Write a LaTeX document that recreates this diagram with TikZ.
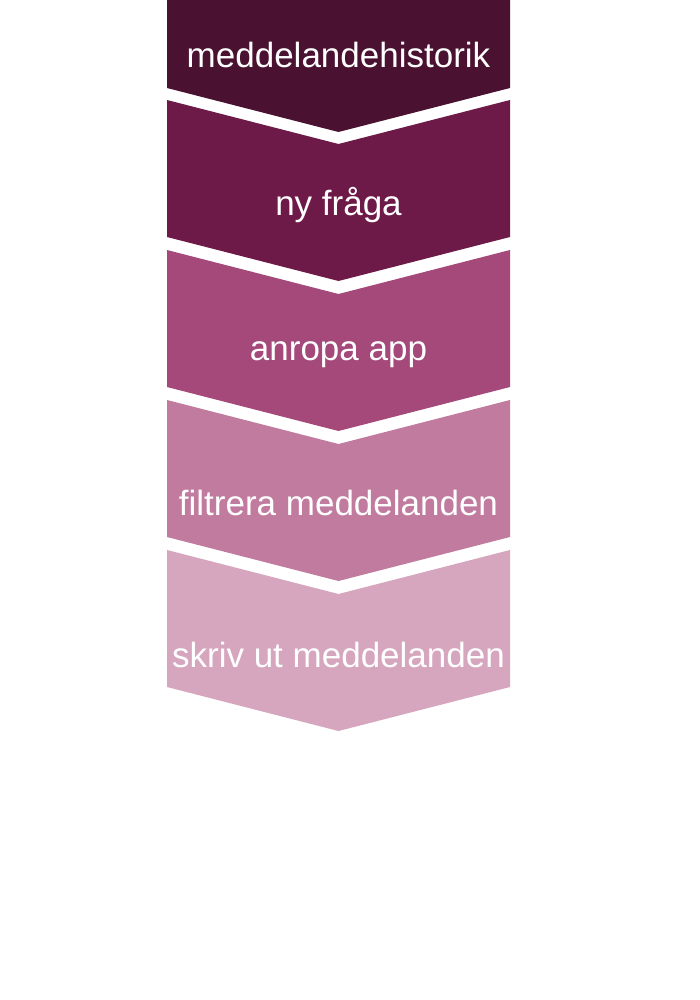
\documentclass[tikz,border=0pt]{standalone}
\usepackage{fontspec}
\setmainfont{Liberation Sans}
\definecolor{cA}{HTML}{4A1230}
\definecolor{cB}{HTML}{6E1A48}
\definecolor{cC}{HTML}{A4497A}
\definecolor{cD}{HTML}{C17B9F}
\definecolor{cE}{HTML}{D6A5BE}
\tikzset{
  lbl/.style={text=white,font=\fontsize{35}{40}\selectfont,inner sep=0pt,anchor=center},
  chev/.style={draw=none}
}
\begin{document}
\begin{tikzpicture}[x=1pt,y=-1pt]
\fill[white] (0,0) rectangle (700,1000);
\useasboundingbox (0,0) rectangle (700,1000);
% first chevron (top cut off)
\fill[cA] (167,0) -- (510,0) -- (510,88) -- (338.5,132) -- (167,88) -- cycle;
% remaining chevrons
\foreach \k/\c in {1/cB,2/cC,3/cD,4/cE}{
  \pgfmathsetmacro{\yt}{-50+150*\k}
  \fill[\c] (167,\yt) -- (338.5,\yt+44) -- (510,\yt) -- (510,\yt+137) -- (338.5,\yt+181) -- (167,\yt+137) -- cycle;
}
\node[lbl] (t1) at (338.5,55) {meddelandehistorik};
\node[lbl] (t2) at (338.5,205) {ny fråga};
\node[lbl] (t3) at (338.5,355) {anropa app};
\node[lbl] (t4) at (338.5,503) {filtrera meddelanden};
\node[lbl] (t5) at (338.5,655) {skriv ut meddelanden};
\end{tikzpicture}
\end{document}
